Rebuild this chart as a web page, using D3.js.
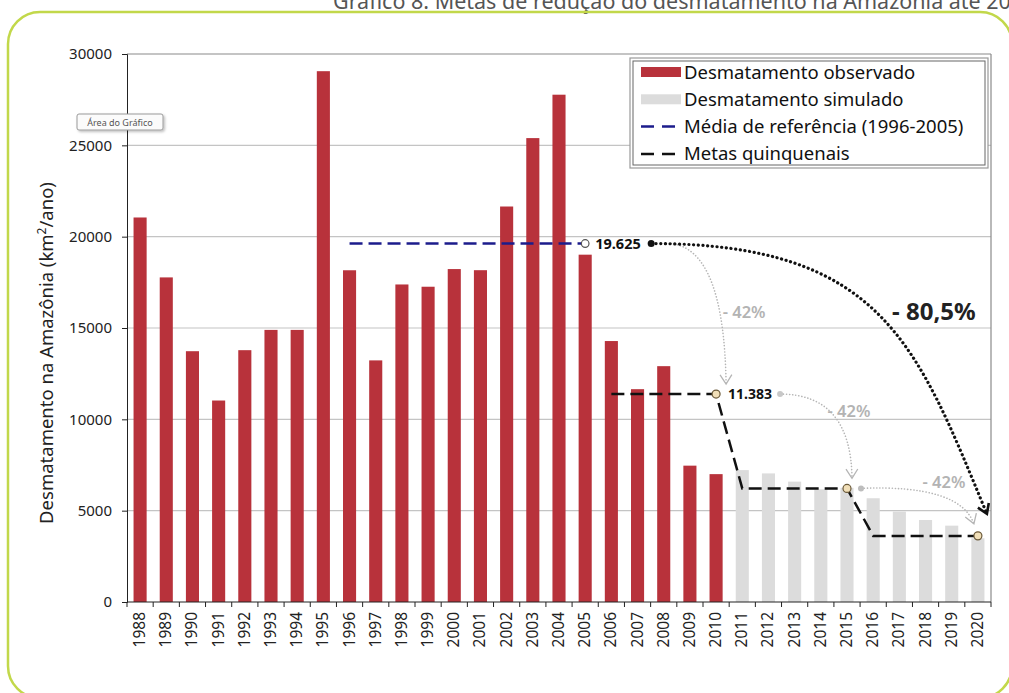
<!DOCTYPE html>
<html>
<head>
<meta charset="utf-8">
<script src="https://cdn.jsdelivr.net/npm/d3@7"></script>
<style>
  body { margin: 0; background: #fff; }
  svg { display: block; }
</style>
</head>
<body>
<div id="chart"></div>
<script>
// data
var years = d3.range(1988, 2021).map(String);
var observedYears = d3.range(1988, 2011).map(String);
var observed = [21050, 17770, 13730, 11030, 13786, 14896, 14896, 29059, 18161, 13227,
  17383, 17259, 18226, 18165, 21651, 25396, 27772, 19014, 14286, 11651, 12911, 7464, 7000];
var simulatedYears = d3.range(2011, 2021).map(String);
var simulated = [7220, 7040, 6590, 6170, 6250, 5680, 4950, 4490, 4180, 3490];
var referenceYears = ["1996", "2005"];
var referenceMean = 19625;
var metaYears = ["2006", "2010", "2011", "2015", "2016", "2020"];
var metaValues = [11383, 11383, 6220, 6220, 3620, 3620];
var yTicks = [0, 5000, 10000, 15000, 20000, 25000, 30000];
var legendLabels = ["Desmatamento observado", "Desmatamento simulado",
  "Média de referência (1996-2005)", "Metas quinquenais"];

var svgWidth = 1009, svgHeight = 693;
var margin = { top: 54, right: 18, bottom: 91, left: 127 };
var width = svgWidth - margin.left - margin.right;
var height = svgHeight - margin.top - margin.bottom;
var font = "'Noto Sans', 'Open Sans', sans-serif";

var svg = d3.select("#chart").append("svg")
  .attr("width", svgWidth)
  .attr("height", svgHeight);

var defs = svg.append("defs");
var shadow = defs.append("filter").attr("id", "shadow")
  .attr("x", "-20%").attr("y", "-40%").attr("width", "140%").attr("height", "180%");
shadow.append("feDropShadow").attr("dx", 1.5).attr("dy", 1.5).attr("stdDeviation", 1.2)
  .attr("flood-color", "#000").attr("flood-opacity", 0.25);

// title (cut off at top, as in the source scan)
svg.append("text")
  .attr("x", 333).attr("y", 9)
  .attr("font-family", font).attr("font-size", 21.5).attr("fill", "#555")
  .text("Gráfico 8. Metas de redução do desmatamento na Amazônia até 2020");

// outer rounded frame
svg.append("rect")
  .attr("x", 8).attr("y", 12).attr("width", 1004).attr("height", 686)
  .attr("rx", 32).attr("ry", 32)
  .attr("fill", "none").attr("stroke", "#c2d84a").attr("stroke-width", 2.5);

var chartGroup = svg.append("g")
  .attr("transform", `translate(${margin.left}, ${margin.top})`);

var x = d3.scaleBand().domain(years).range([0, width]).paddingInner(0.5).paddingOuter(0.25);
var y = d3.scaleLinear().domain([0, 30000]).range([height, 0]);
var cx = d => x(d) + x.bandwidth() / 2;

// gridlines
chartGroup.selectAll(".grid")
  .data(yTicks.filter(d => d > 0))
  .enter().append("line")
  .attr("x1", 0).attr("x2", width)
  .attr("y1", d => y(d)).attr("y2", d => y(d))
  .attr("stroke", d => d === 30000 ? "#8a8a8a" : "#c4c4c4")
  .attr("stroke-width", 1.2);

// right border
chartGroup.append("line")
  .attr("x1", width).attr("x2", width).attr("y1", 0).attr("y2", height)
  .attr("stroke", "#8a8a8a").attr("stroke-width", 1.2);

// bars
chartGroup.selectAll(".sim")
  .data(simulated)
  .enter().append("rect")
  .attr("x", (d, i) => x(simulatedYears[i]))
  .attr("y", d => y(d))
  .attr("width", x.bandwidth())
  .attr("height", d => height - y(d))
  .attr("fill", "#dcdcdc");

chartGroup.selectAll(".obs")
  .data(observed)
  .enter().append("rect")
  .attr("x", (d, i) => x(observedYears[i]))
  .attr("y", d => y(d))
  .attr("width", x.bandwidth())
  .attr("height", d => height - y(d))
  .attr("fill", "#b8323b");

// axes
var yAxis = chartGroup.append("g")
  .call(d3.axisLeft(y).tickValues(yTicks).tickSize(5).tickFormat(d3.format("d")));
yAxis.select(".domain").attr("stroke", "#222");
yAxis.selectAll(".tick line").attr("stroke", "#222");
yAxis.selectAll("text").attr("font-family", font).attr("font-size", 15).attr("fill", "#222")
  .attr("x", -15);

var xAxis = chartGroup.append("g")
  .attr("transform", `translate(0, ${height})`);
xAxis.append("line").attr("x1", 0).attr("x2", width).attr("stroke", "#222").attr("stroke-width", 1.2);
var step = x.step();
xAxis.selectAll(".xt")
  .data(d3.range(years.length + 1))
  .enter().append("line")
  .attr("x1", i => x(years[0]) - x.bandwidth() / 2 + i * step)
  .attr("x2", i => x(years[0]) - x.bandwidth() / 2 + i * step)
  .attr("y1", 0).attr("y2", 5)
  .attr("stroke", "#222");
xAxis.selectAll(".xl")
  .data(years)
  .enter().append("text")
  .attr("transform", d => `translate(${cx(d) + 5}, 10) rotate(-90)`)
  .attr("text-anchor", "end")
  .attr("font-family", font).attr("font-size", 15.5).attr("fill", "#222")
  .text(d => d);

// y axis title
chartGroup.append("text")
  .attr("transform", `translate(-74, ${height / 2 + 25}) rotate(-90)`)
  .attr("text-anchor", "middle")
  .attr("font-family", font).attr("font-size", 18.5).attr("fill", "#222")
  .html("Desmatamento na Amazônia (km<tspan dy='-7' font-size='12'>2</tspan><tspan dy='7'>/ano)</tspan>");

// reference mean line
chartGroup.append("line")
  .attr("x1", cx(referenceYears[0])).attr("x2", cx(referenceYears[1]))
  .attr("y1", y(referenceMean)).attr("y2", y(referenceMean))
  .attr("stroke", "#1c1c8c").attr("stroke-width", 2.5).attr("stroke-dasharray", "13 6");

// metas line
var metaLine = d3.line().x(d => cx(d[0])).y(d => y(d[1]));
var metaPts = metaYears.map((d, i) => [d, metaValues[i]]);
chartGroup.append("path")
  .attr("d", metaLine(metaPts))
  .attr("fill", "none").attr("stroke", "#111").attr("stroke-width", 2.5)
  .attr("stroke-dasharray", "13 6");

// arrows
function arrowHead(g, px, py, ang, len, color, w) {
  var a1 = ang + Math.PI * 0.82, a2 = ang - Math.PI * 0.82;
  g.append("path")
    .attr("d", `M${px + len * Math.cos(a1)},${py + len * Math.sin(a1)} L${px},${py} L${px + len * Math.cos(a2)},${py + len * Math.sin(a2)}`)
    .attr("fill", "none").attr("stroke", color).attr("stroke-width", w);
}

var y0 = y(referenceMean), y1 = y(metaValues[1]), y2 = y(metaValues[3]), y3 = y(metaValues[5]);
var xs05 = cx("2005"), xs10 = cx("2010"), xs15 = cx("2015"), xs20 = cx("2020");

var grayArrows = [
  { s: [xs05 + 86, y0], c: [xs10 + 8, y0 + 6], e: [xs10 + 10, y1 - 10] },
  { s: [xs10 + 64, y1], c: [xs15 + 4, y1], e: [xs15 + 5, y2 - 10] },
  { s: [xs15 + 14, y2], c: [xs20 - 18, y2 - 4], e: [xs20 - 4, y3 - 12] }
];
grayArrows.forEach(function(a) {
  chartGroup.append("path")
    .attr("d", `M${a.s[0]},${a.s[1]} Q${a.c[0]},${a.c[1]} ${a.e[0]},${a.e[1]}`)
    .attr("fill", "none").attr("stroke", "#b5b5b5").attr("stroke-width", 1.6)
    .attr("stroke-dasharray", "0.1 3").attr("stroke-linecap", "round");
  var ang = Math.atan2(a.e[1] - a.c[1], a.e[0] - a.c[0]);
  arrowHead(chartGroup, a.e[0], a.e[1], ang, 11, "#b5b5b5", 1.3);
});
chartGroup.append("circle").attr("cx", grayArrows[1].s[0]).attr("cy", y1).attr("r", 3).attr("fill", "#c8c8c8");
chartGroup.append("circle").attr("cx", grayArrows[2].s[0]).attr("cy", y2).attr("r", 3).attr("fill", "#bdbdbd");

// big black arrow (19.625 -> 2020 target)
var b0 = [xs05 + 66, y0], b1 = [xs20 - 95, y0], b2 = [xs20 - 61, y0 + 102], b3 = [xs20 + 9, y3 - 22];
chartGroup.append("path")
  .attr("d", `M${b0[0]},${b0[1]} C${b1[0]},${b1[1]} ${b2[0]},${b2[1]} ${b3[0]},${b3[1]}`)
  .attr("fill", "none").attr("stroke", "#111").attr("stroke-width", 3.2)
  .attr("stroke-dasharray", "0.1 4.6").attr("stroke-linecap", "round");
arrowHead(chartGroup, b3[0], b3[1], Math.atan2(b3[1] - b2[1], b3[0] - b2[0]), 11, "#111", 2.6);
chartGroup.append("circle").attr("cx", b0[0]).attr("cy", b0[1]).attr("r", 3.5).attr("fill", "#111");

// markers
chartGroup.append("circle").attr("cx", xs05).attr("cy", y0).attr("r", 3.8)
  .attr("fill", "#fff").attr("stroke", "#555").attr("stroke-width", 1.2);
[[xs10, y1], [xs15, y2], [xs20, y3]].forEach(function(p) {
  chartGroup.append("circle").attr("cx", p[0]).attr("cy", p[1]).attr("r", 4)
    .attr("fill", "#f1dfb8").attr("stroke", "#6b5a3a").attr("stroke-width", 1.2);
});

// value labels
chartGroup.append("text").attr("x", xs05 + 10).attr("y", y0 + 5)
  .attr("font-family", font).attr("font-size", 14.5).attr("font-weight", "bold").attr("fill", "#111")
  .text("19.625");
chartGroup.append("text").attr("x", xs10 + 12).attr("y", y1 + 5)
  .attr("font-family", font).attr("font-size", 14).attr("font-weight", "bold").attr("fill", "#111")
  .text("11.383");

var pctLabels = [
  { x: xs10 + 28, y: (y0 + y1) / 2 - 1 },
  { x: xs15 + 2, y: y1 + 23 },
  { x: xs20 - 34, y: y2 },
];
pctLabels.forEach(function(p) {
  chartGroup.append("text").attr("x", p.x).attr("y", p.y)
    .attr("text-anchor", "middle")
    .attr("font-family", font).attr("font-size", 16.5).attr("font-weight", 600).attr("fill", "#b3b3b3")
    .text("- 42%");
});
chartGroup.append("text").attr("x", xs20 - 44).attr("y", (y0 + y1) / 2 + 1)
  .attr("text-anchor", "middle")
  .attr("font-family", font).attr("font-size", 24).attr("font-weight", "bold").attr("fill", "#222")
  .text("- 80,5%");

// legend
var legend = svg.append("g").attr("transform", "translate(630, 58)");
legend.append("rect").attr("width", 358).attr("height", 110)
  .attr("fill", "#fff").attr("stroke", "#9a9a9a").attr("stroke-width", 1.2);
legend.append("rect").attr("x", 3).attr("y", 3).attr("width", 352).attr("height", 104)
  .attr("fill", "none").attr("stroke", "#666").attr("stroke-width", 1);
legendLabels.forEach(function(l, i) {
  var ly = 14 + i * 27.3;
  if (i < 2) {
    legend.append("rect").attr("x", 11).attr("y", ly - 5).attr("width", 40).attr("height", 10)
      .attr("fill", i === 0 ? "#b8323b" : "#dcdcdc");
  } else {
    legend.append("line").attr("x1", 11).attr("x2", 51).attr("y1", ly).attr("y2", ly)
      .attr("stroke", i === 2 ? "#1c1c8c" : "#111").attr("stroke-width", 2.5)
      .attr("stroke-dasharray", "13 8");
  }
  legend.append("text").attr("x", 54).attr("y", ly + 6.5)
    .attr("font-family", font).attr("font-size", 18.5).attr("fill", "#111")
    .text(l);
});

// "Área do Gráfico" tooltip
var tip = svg.append("g").attr("transform", "translate(77, 114)");
tip.append("rect").attr("width", 86).attr("height", 16).attr("rx", 2)
  .attr("fill", "#fbfbfb").attr("stroke", "#9a9a9a").attr("filter", "url(#shadow)");
tip.append("text").attr("x", 43).attr("y", 11.5).attr("text-anchor", "middle")
  .attr("font-family", font).attr("font-size", 9).attr("fill", "#555")
  .text("Área do Gráfico");
</script>
</body>
</html>
